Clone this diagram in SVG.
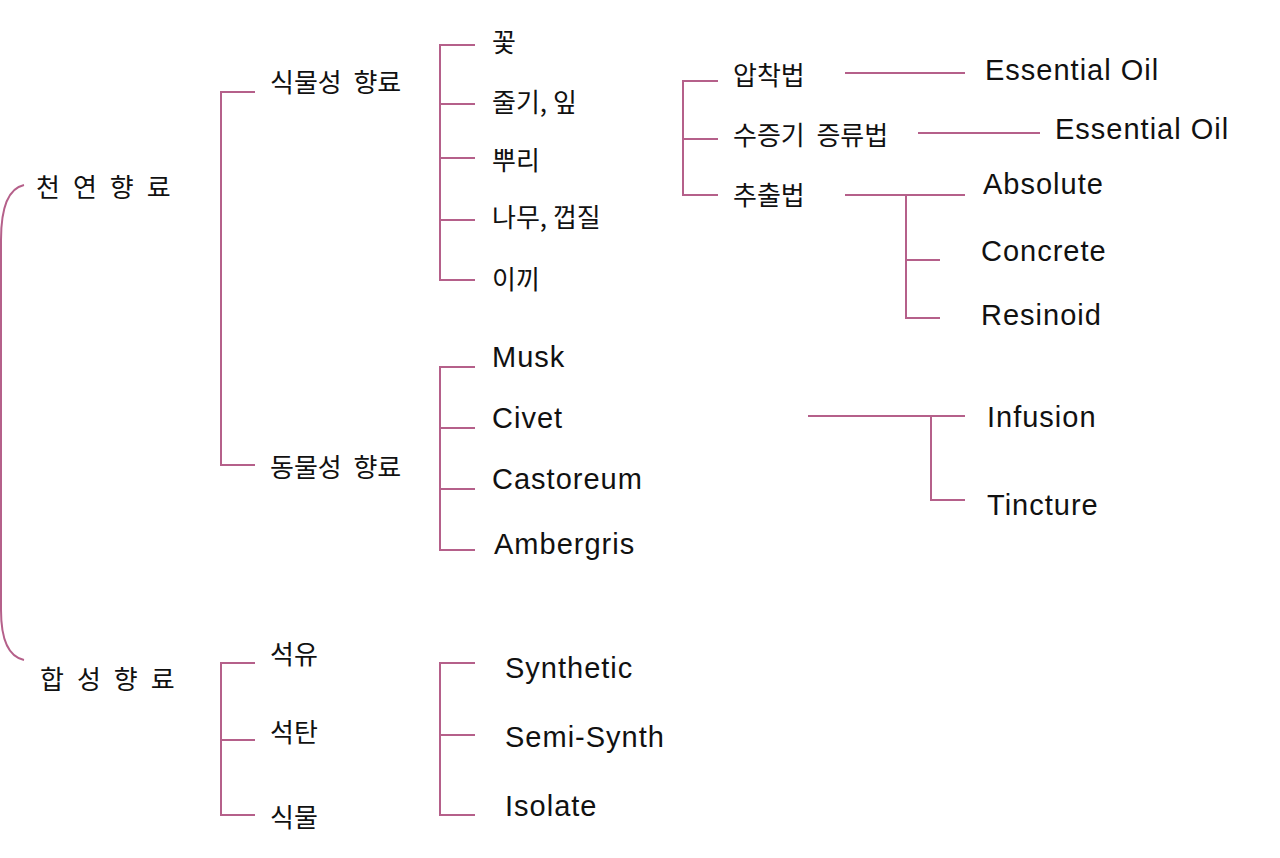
<svg xmlns="http://www.w3.org/2000/svg" width="1280" height="858" viewBox="0 0 1280 858">
<style>
.l{stroke:#b5608a;stroke-width:2;fill:none}
.k{font-family:"Noto Sans CJK KR","Noto Sans",sans-serif;font-size:26px;fill:#111;dominant-baseline:central}
.e{font-family:"Liberation Sans",Arial,sans-serif;font-size:29px;letter-spacing:1px;fill:#111;dominant-baseline:central}
</style>
<rect width="1280" height="858" fill="#fff"/>
<g id="connectors">
<path class="l" d="M24,185 Q1,190 1,240 L1,610 Q1,655 24,660"/>
<path class="l" d="M255,92 H221 V465 H255"/>
<path class="l" d="M475,45 H440 V280 H475 M440,104 H475 M440,158 H475 M440,220 H475"/>
<path class="l" d="M718,81 H683 V195 H718 M683,139 H718"/>
<path class="l" d="M845,73 H965 M918,133 H1040 M845,195 H965 M906,195 V318 H940 M906,260 H940"/>
<path class="l" d="M475,367 H440 V550 H475 M440,428 H475 M440,489 H475"/>
<path class="l" d="M808,416 H965 M931,416 V500 H965"/>
<path class="l" d="M255,663 H221 V815 H255 M221,740 H255"/>
<path class="l" d="M475,663 H440 V815 H475 M440,735 H475"/>
</g>
<g id="n-natural"><text class="k" x="36" y="185" letter-spacing="13">천연향료</text></g>
<g id="n-synth"><text class="k" x="40" y="677" letter-spacing="13">합성향료</text></g>
<g id="n-plant"><text class="k" x="270" y="80" xml:space="preserve">식물성  향료</text></g>
<g id="n-animal"><text class="k" x="270" y="465" xml:space="preserve">동물성  향료</text></g>
<g id="n-p1"><text class="k" x="492" y="40">꽃</text></g>
<g id="n-p2"><text class="k" x="492" y="100">줄기, 잎</text></g>
<g id="n-p3"><text class="k" x="492" y="158">뿌리</text></g>
<g id="n-p4"><text class="k" x="492" y="215">나무, 껍질</text></g>
<g id="n-p5"><text class="k" x="492" y="277">이끼</text></g>
<g id="n-m1"><text class="k" x="733" y="73">압착법</text></g>
<g id="n-m2"><text class="k" x="733" y="133" xml:space="preserve">수증기  증류법</text></g>
<g id="n-m3"><text class="k" x="733" y="193">추출법</text></g>
<g id="n-eo1"><text class="e" x="985" y="70">Essential Oil</text></g>
<g id="n-eo2"><text class="e" x="1055" y="129">Essential Oil</text></g>
<g id="n-abs"><text class="e" x="983" y="184">Absolute</text></g>
<g id="n-con"><text class="e" x="981" y="251">Concrete</text></g>
<g id="n-res"><text class="e" x="981" y="315">Resinoid</text></g>
<g id="n-musk"><text class="e" x="492" y="357">Musk</text></g>
<g id="n-civet"><text class="e" x="492" y="418">Civet</text></g>
<g id="n-cast"><text class="e" x="492" y="479">Castoreum</text></g>
<g id="n-amb"><text class="e" x="494" y="544">Ambergris</text></g>
<g id="n-inf"><text class="e" x="987" y="417">Infusion</text></g>
<g id="n-tin"><text class="e" x="987" y="505">Tincture</text></g>
<g id="n-s1"><text class="k" x="270" y="652">석유</text></g>
<g id="n-s2"><text class="k" x="270" y="730">석탄</text></g>
<g id="n-s3"><text class="k" x="270" y="815">식물</text></g>
<g id="n-syn"><text class="e" x="505" y="668">Synthetic</text></g>
<g id="n-semi"><text class="e" x="505" y="737">Semi-Synth</text></g>
<g id="n-iso"><text class="e" x="505" y="806">Isolate</text></g>
</svg>
